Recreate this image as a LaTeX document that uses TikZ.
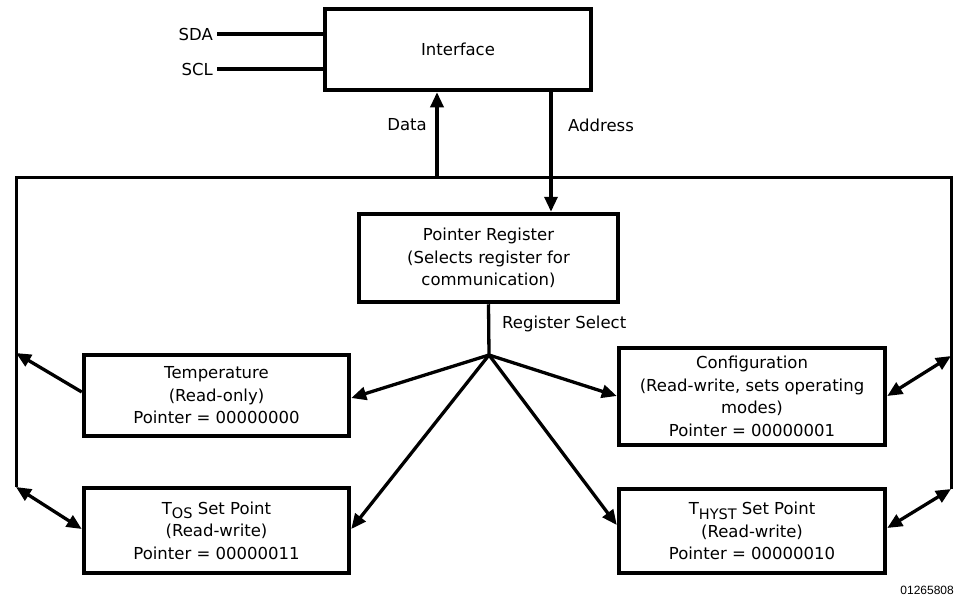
\documentclass[tikz,border=0pt]{standalone}
\usepackage{fontspec}
\setmainfont{DejaVu Sans}
\newfontfamily\notefont{Liberation Sans}
\usetikzlibrary{arrows.meta}
\newcommand{\fsz}{\fontsize{16.5}{22.5}\selectfont}
\newcommand{\subtx}[1]{\raisebox{-4.5pt}{\fontsize{14.5}{14.5}\selectfont #1}}
\begin{document}
\begin{tikzpicture}[x=1pt,y=-1pt,
  box/.style={draw,line width=4.5pt,align=center,inner sep=0pt,font=\fsz},
  lbl/.style={inner sep=3pt,font=\fsz},
  conn/.style={line width=3.3pt},
  bus/.style={line width=3pt,line join=miter},
  tip/.style={conn,-{Triangle[length=15pt,width=13pt]}},
  dtip/.style={conn,{Triangle[length=15pt,width=13pt]}-{Triangle[length=15pt,width=13pt]}}]
\useasboundingbox (0,0) rectangle (956,603);

% boxes
\node[box,minimum width=266pt,minimum height=81pt] (iface) at (458,49.5) {Interface};
\node[box,minimum width=259pt,minimum height=88pt] (ptr) at (488.5,258) {Pointer Register\\(Selects register for\\communication)};
\node[box,minimum width=265pt,minimum height=81pt] (temp) at (216.5,395.5) {Temperature\\(Read-only)\\Pointer = 00000000};
\node[box,minimum width=266pt,minimum height=97pt] (conf) at (752,396.5) {Configuration\\(Read-write, sets operating\\modes)\\Pointer = 00000001};
\node[box,minimum width=265pt,minimum height=85pt] (tos) at (216.5,530.5) {T\subtx{OS} Set Point\\(Read-write)\\Pointer = 00000011};
\node[box,minimum width=266pt,minimum height=84pt] (thyst) at (752,531) {T\subtx{HYST} Set Point\\(Read-write)\\Pointer = 00000010};

% labels
\node[lbl,anchor=east,inner sep=4pt] (sda) at (217,34) {SDA};
\node[lbl,anchor=east,inner sep=4pt] (scl) at (217,69) {SCL};
\node[lbl,anchor=east] (datal) at (430,125) {Data};
\node[lbl,anchor=west] (addrl) at (565,125) {Address};
\node[lbl,anchor=west] (rsl) at (499,324) {Register Select};
\node[anchor=east,inner sep=1pt,font=\notefont\fontsize{12}{12}\selectfont] (note) at (955,590) {01265808};

% coordinates
\coordinate (bl) at (16,487);
\coordinate (tl) at (16,177);
\coordinate (tr) at (951,177);
\coordinate (br) at (951,489);
\coordinate (lt) at (16,353);
\coordinate (rt) at (951,356);
\coordinate (db) at (437,177);
\coordinate (ab) at (551,177);
\coordinate (j) at (489,355);

% SDA / SCL
\draw[conn] (sda.east) -- (iface.west |- sda.east);
\draw[conn] (scl.east) -- (iface.west |- scl.east);

% bus
\draw[bus] (bl) -- (tl) -- (tr) -- (br);

% data / address
\draw[tip] (db) -- (db |- iface.south);
\draw[tip] (ab |- iface.south) -- (ab |- ptr.north);

% register select
\draw[conn] (ptr.south) -- (j);
\draw[tip] (j) -- (temp.east |- 0,398);
\draw[tip] (j) -- (conf.west |- 0,396);
\draw[tip] (j) -- (tos.east |- 0,529);
\draw[tip] (j) -- (thyst.west |- 0,525);

% to bus
\draw[tip] (temp.west |- 0,392) -- (lt);
\draw[dtip] (bl) -- (tos.west |- 0,529);
\draw[dtip] (conf.east |- 0,396) -- (rt);
\draw[dtip] (thyst.east |- 0,528) -- (br);
\end{tikzpicture}
\end{document}
